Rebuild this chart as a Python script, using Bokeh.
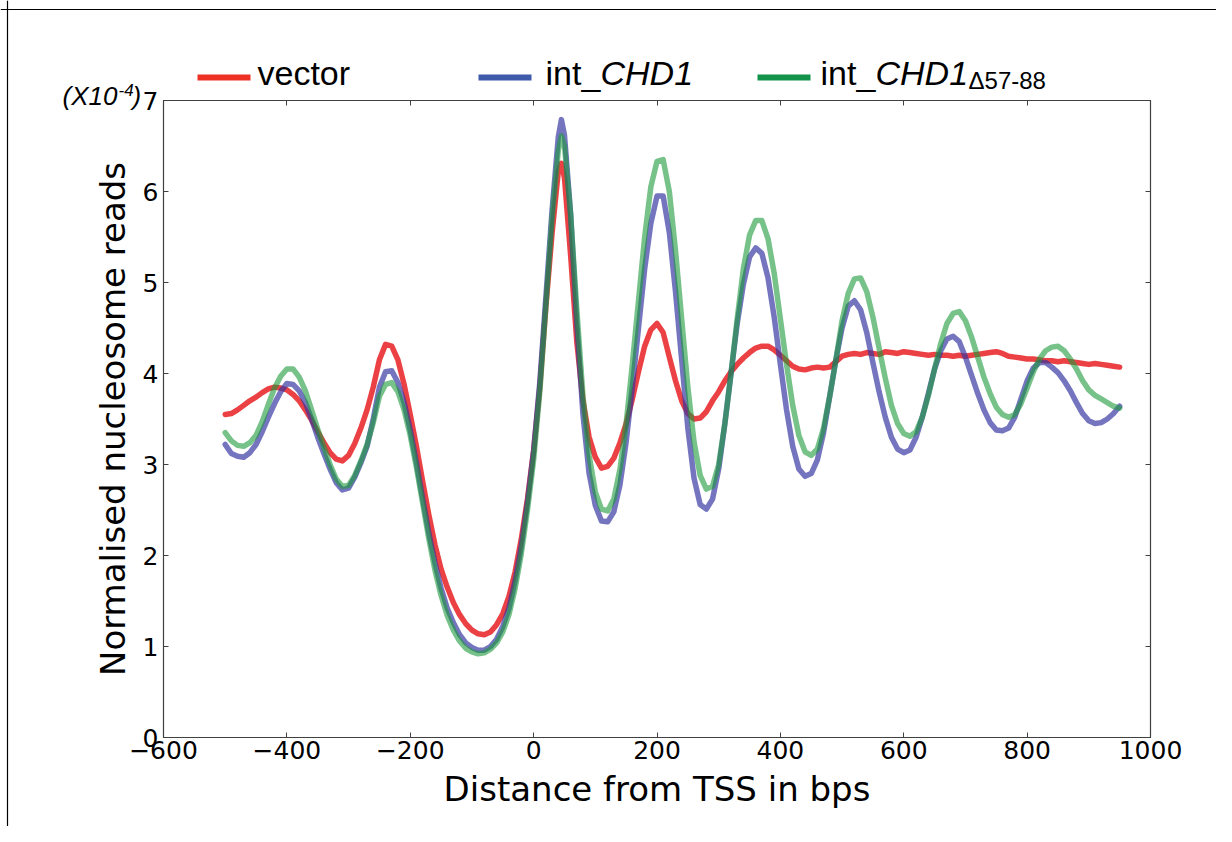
from bokeh.plotting import figure
from bokeh.layouts import column
from bokeh.models import (Range1d, LinearAxis, FixedTicker, Label, BoxAnnotation,
                          CustomJSTickFormatter, ColumnDataSource, Span)
from bokeh.embed import file_html
from bokeh.resources import INLINE

# ---------------- data ----------------
distance = list(range(-500, 41, 10)) + [45] + list(range(50, 951, 10))

vector = [
    3.55, 3.56, 3.60, 3.65, 3.70, 3.74, 3.79, 3.83, 3.85, 3.84,
    3.82, 3.77, 3.70, 3.60, 3.49, 3.36, 3.24, 3.13, 3.06, 3.04,
    3.10, 3.23, 3.40, 3.60, 3.85, 4.15, 4.32, 4.30, 4.15, 3.88,
    3.55, 3.20, 2.82, 2.45, 2.12, 1.85, 1.65, 1.48, 1.35, 1.25,
    1.18, 1.14, 1.13, 1.16, 1.24, 1.36, 1.55, 1.82, 2.18, 2.62,
    3.15, 3.85, 4.75, 5.55, 6.22,
    6.31,
    6.15, 5.30, 4.35, 3.70, 3.30, 3.08, 2.96, 2.98, 3.07, 3.24,
    3.45, 3.72, 4.02, 4.30, 4.48, 4.55, 4.45, 4.18, 3.92, 3.70,
    3.56, 3.50, 3.51, 3.58, 3.70, 3.80, 3.92, 4.02, 4.10, 4.17,
    4.23, 4.28, 4.30, 4.30, 4.26, 4.20, 4.14, 4.08, 4.05, 4.04,
    4.06, 4.07, 4.06, 4.07, 4.13, 4.19, 4.21, 4.22, 4.21, 4.23,
    4.22, 4.21, 4.24, 4.23, 4.22, 4.24, 4.23, 4.22, 4.21, 4.20,
    4.21, 4.20, 4.20, 4.19, 4.20, 4.19, 4.20, 4.21, 4.22, 4.23,
    4.24, 4.22, 4.19, 4.18, 4.17, 4.16, 4.16, 4.15, 4.14, 4.14,
    4.13, 4.14, 4.13, 4.12, 4.11, 4.10, 4.11, 4.10, 4.09, 4.08,
    4.07,
]

int_chd1 = [
    3.22, 3.12, 3.09, 3.08, 3.13, 3.22, 3.36, 3.52, 3.67, 3.80,
    3.89, 3.88, 3.81, 3.68, 3.50, 3.30, 3.12, 2.95, 2.80, 2.72,
    2.74, 2.86, 3.02, 3.20, 3.50, 3.85, 4.02, 4.03, 3.90, 3.68,
    3.38, 3.02, 2.63, 2.25, 1.92, 1.64, 1.42, 1.26, 1.13, 1.04,
    0.99, 0.96, 0.96, 1.00, 1.08, 1.22, 1.42, 1.72, 2.10, 2.58,
    3.15, 3.90, 4.85, 5.80, 6.60,
    6.79,
    6.62, 5.75, 4.55, 3.55, 2.90, 2.55, 2.38, 2.37, 2.48, 2.78,
    3.25, 3.85, 4.50, 5.15, 5.65, 5.95, 5.95, 5.55, 4.90, 4.15,
    3.40, 2.85, 2.56, 2.51, 2.62, 2.95, 3.45, 4.00, 4.55, 4.98,
    5.28, 5.38, 5.32, 5.05, 4.62, 4.10, 3.60, 3.20, 2.95, 2.87,
    2.90, 3.05, 3.35, 3.75, 4.15, 4.50, 4.74, 4.80, 4.70, 4.45,
    4.12, 3.80, 3.52, 3.30, 3.17, 3.13, 3.16, 3.30, 3.52, 3.78,
    4.05, 4.25, 4.38, 4.41, 4.35, 4.18, 3.98, 3.78, 3.60, 3.46,
    3.38, 3.37, 3.40, 3.52, 3.72, 3.92, 4.06, 4.12, 4.12, 4.07,
    4.01, 3.92, 3.81, 3.68, 3.56, 3.48, 3.45, 3.46, 3.50, 3.56,
    3.64,
]

int_chd1_d57_88 = [
    3.35, 3.26, 3.21, 3.20, 3.24, 3.32, 3.47, 3.66, 3.84, 3.97,
    4.05, 4.05, 3.96, 3.81, 3.60, 3.39, 3.19, 3.00, 2.84, 2.76,
    2.77, 2.88, 3.04, 3.22, 3.46, 3.75, 3.88, 3.90, 3.80, 3.60,
    3.32, 2.97, 2.58, 2.19, 1.84, 1.56, 1.34, 1.18, 1.06, 0.98,
    0.94, 0.92, 0.93, 0.97, 1.04, 1.16, 1.35, 1.64, 2.02, 2.50,
    3.05, 3.80, 4.75, 5.72, 6.45,
    6.61,
    6.50, 5.75, 4.70, 3.75, 3.10, 2.70, 2.51, 2.49, 2.62, 2.95,
    3.45, 4.10, 4.80, 5.50, 6.05, 6.33, 6.35, 6.00, 5.35, 4.60,
    3.85, 3.25, 2.88, 2.73, 2.76, 3.00, 3.45, 4.00, 4.60, 5.15,
    5.52, 5.68, 5.68, 5.48, 5.10, 4.60, 4.10, 3.65, 3.32, 3.14,
    3.10, 3.17, 3.40, 3.75, 4.15, 4.58, 4.88, 5.04, 5.05, 4.90,
    4.62, 4.28, 3.95, 3.65, 3.45, 3.34, 3.31, 3.36, 3.52, 3.76,
    4.05, 4.33, 4.55, 4.66, 4.68, 4.58, 4.40, 4.18, 3.96, 3.78,
    3.63, 3.55, 3.52, 3.55, 3.67, 3.84, 4.02, 4.16, 4.25, 4.29,
    4.30, 4.25, 4.16, 4.05, 3.92, 3.82, 3.76, 3.72, 3.68, 3.64,
    3.62,
]

x_ticks = [-600, -400, -200, 0, 200, 400, 600, 800, 1000]
y_ticks = [0, 1, 2, 3, 4, 5, 6, 7]
x_tick_labels = {-600: "\u2212600", -400: "\u2212400", -200: "\u2212200"}

# ---------------- styles ----------------
W, H = 1216, 826
TICK_FONT = "DejaVu Sans"
LEG_FONT = "Liberation Sans"
AXIS_COLOR = "#404040"

p = figure(width=W, height=H, output_backend="svg", toolbar_location=None,
           x_range=Range1d(-600, 1000), y_range=Range1d(0, 7),
           min_border_left=163, min_border_right=66, min_border_top=100,
           min_border_bottom=89, background_fill_color="white",
           border_fill_color="white", frame_align=False)
p.xgrid.visible = False
p.ygrid.visible = False
p.outline_line_color = AXIS_COLOR

src = ColumnDataSource(dict(x=distance, v=vector, c=int_chd1, d=int_chd1_d57_88))
p.line("x", "v", source=src, line_color="#e8272a", line_alpha=0.88, line_width=5.5,
       line_join="round", line_cap="round")
p.line("x", "c", source=src, line_color="#3434a0", line_alpha=0.68, line_width=5.5,
       line_join="round", line_cap="round")
p.line("x", "d", source=src, line_color="#1a9a3a", line_alpha=0.6, line_width=5.5,
       line_join="round", line_cap="round")

def style_axis(ax, ticks, show_labels):
    ax.ticker = FixedTicker(ticks=ticks)
    ax.minor_tick_line_color = None
    ax.major_tick_in = 5
    ax.major_tick_out = 0
    ax.major_tick_line_color = AXIS_COLOR
    ax.axis_line_color = AXIS_COLOR
    ax.axis_line_width = 1.2
    ax.major_label_text_font = TICK_FONT
    ax.major_label_text_font_size = "25px"
    ax.major_label_text_color = "black"
    if not show_labels:
        ax.formatter = CustomJSTickFormatter(code="return ''")

xa = p.xaxis[0]
style_axis(xa, x_ticks, True)
xa.major_label_overrides = x_tick_labels
xa.major_label_standoff = 3
xa.axis_label = "Distance from TSS in bps"
xa.axis_label_text_font = TICK_FONT
xa.axis_label_text_font_size = "34px"
xa.axis_label_text_font_style = "normal"
xa.axis_label_text_color = "black"
xa.axis_label_standoff = 7

ya = p.yaxis[0]
style_axis(ya, y_ticks, True)
ya.major_label_standoff = 5
ya.axis_label = "Normalised nucleosome reads"
ya.axis_label_text_font = TICK_FONT
ya.axis_label_text_font_size = "34px"
ya.axis_label_text_font_style = "normal"
ya.axis_label_text_color = "black"
ya.axis_label_standoff = 7

top_ax = LinearAxis()
style_axis(top_ax, x_ticks, False)
p.add_layout(top_ax, "above")
right_ax = LinearAxis()
style_axis(right_ax, y_ticks, False)
p.add_layout(right_ax, "right")

# ---------------- overlay: legend and multiplier (pixel coordinates) ----------------
ov = figure(width=W, height=H, output_backend="svg", toolbar_location=None,
            x_range=Range1d(0, W), y_range=Range1d(H, 0),
            min_border_left=0, min_border_right=0, min_border_top=0,
            min_border_bottom=0, x_axis_type=None, y_axis_type=None,
            background_fill_color=None, border_fill_color=None,
            outline_line_color=None, frame_align=False,
            styles={"margin-top": f"-{H}px"})
ov.xgrid.visible = False
ov.ygrid.visible = False

# thin page frame (top and left) of the original picture
ov.add_layout(Span(location=9, dimension="width", line_color="black", line_width=1.2))
ov.add_layout(Span(location=7, dimension="height", line_color="black", line_width=1.2))

MID = 0.3465  # distance from alphabetic baseline to text middle, in em

def sample(left, color):
    ov.add_layout(BoxAnnotation(left=left, right=left + 53, top=74, bottom=80,
                                fill_color=color, fill_alpha=1.0, line_color=None))

def text(x, base, s, size, style="normal", font=LEG_FONT):
    ov.add_layout(Label(x=x, y=base - MID * size, text=s, text_font=font,
                        text_font_size=f"{size}px", text_font_style=style,
                        text_color="black", text_baseline="middle",
                        text_align="left"))

sample(197, "#ed3124")
text(257, 84, "vector", 34)
sample(478, "#3f59ab")
text(545, 84, "int_", 34)
text(600, 84, "CHD1", 34, "italic")
sample(757, "#13924a")
text(820, 84, "int_", 34)
text(875, 84, "CHD1", 34, "italic")
text(968, 88, "\u039457-88", 24)

text(62, 105, "(X10", 26, "italic")
text(118, 95, "-4", 17, "italic")
text(132, 105, ")", 26, "italic")

open("out.html", "w").write(file_html(column(p, ov), INLINE))
